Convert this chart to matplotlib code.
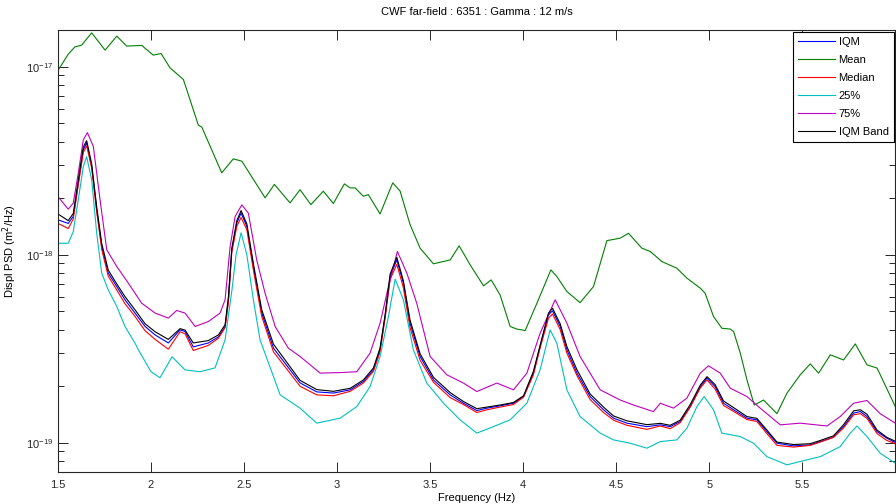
import matplotlib
matplotlib.use("Agg")
import matplotlib.pyplot as plt
from matplotlib.ticker import NullFormatter, LogLocator
import numpy as np

plt.rcParams['font.family'] = ['Liberation Sans', 'DejaVu Sans']

################################################################################
# data ----
################################################################################

# Mean (smooth green curve)
freq_mean = [1.50, 1.554, 1.591, 1.627, 1.681, 1.753, 1.816, 1.869, 1.950, 2.012,
             2.054, 2.102, 2.174, 2.254, 2.273, 2.380, 2.442, 2.488, 2.613, 2.663,
             2.747, 2.801, 2.859, 2.926, 2.980, 3.039, 3.070, 3.097, 3.141, 3.168,
             3.231, 3.299, 3.339, 3.392, 3.446, 3.518, 3.608, 3.656, 3.715, 3.787,
             3.828, 3.876, 3.930, 3.966, 4.011, 4.074, 4.149, 4.181, 4.235, 4.306,
             4.378, 4.450, 4.522, 4.566, 4.638, 4.683, 4.746, 4.826, 4.880, 4.952,
             4.978, 5.023, 5.068, 5.113, 5.131, 5.167, 5.203, 5.242, 5.292, 5.364,
             5.418, 5.489, 5.543, 5.588, 5.651, 5.722, 5.785, 5.848, 5.902, 6.0]
psd_mean = [9.56e-18, 1.163e-17, 1.277e-17, 1.304e-17, 1.516e-17, 1.227e-17, 1.457e-17,
            1.289e-17, 1.30e-17, 1.154e-17, 1.177e-17, 9.88e-18, 8.56e-18, 4.90e-18,
            4.78e-18, 2.73e-18, 3.24e-18, 3.15e-18, 2.01e-18, 2.37e-18, 1.89e-18,
            2.22e-18, 1.85e-18, 2.18e-18, 1.875e-18, 2.385e-18, 2.27e-18, 2.27e-18,
            2.05e-18, 2.09e-18, 1.65e-18, 2.415e-18, 2.18e-18, 1.45e-18, 1.085e-18,
            8.96e-19, 9.4e-19, 1.117e-18, 8.85e-19, 6.84e-19, 7.36e-19, 6.12e-19,
            4.16e-19, 4.03e-19, 3.96e-19, 5.53e-19, 8.32e-19, 7.67e-19, 6.38e-19,
            5.57e-19, 6.78e-19, 1.19e-18, 1.227e-18, 1.303e-18, 1.085e-18, 1.042e-18,
            9.21e-19, 8.49e-19, 7.52e-19, 6.65e-19, 6.25e-19, 4.70e-19, 4.07e-19,
            4.03e-19, 3.91e-19, 3.00e-19, 2.16e-19, 1.59e-19, 1.69e-19, 1.43e-19,
            1.84e-19, 2.30e-19, 2.63e-19, 2.35e-19, 2.94e-19, 2.76e-19, 3.36e-19,
            2.60e-19, 2.50e-19, 1.56e-19]

# IQM, Median and IQM Band share one frequency grid
freq_mid = [1.50, 1.555, 1.582, 1.609, 1.636, 1.654, 1.681, 1.708, 1.735, 1.770,
            1.816, 1.860, 1.914, 1.968, 2.022, 2.093, 2.156, 2.183, 2.227, 2.308,
            2.362, 2.398, 2.416, 2.434, 2.461, 2.484, 2.515, 2.550, 2.595, 2.658,
            2.801, 2.891, 2.980, 3.070, 3.141, 3.195, 3.231, 3.258, 3.285, 3.321,
            3.356, 3.392, 3.446, 3.518, 3.608, 3.679, 3.751, 3.805, 3.876, 3.948,
            4.002, 4.055, 4.091, 4.136, 4.158, 4.199, 4.235, 4.289, 4.360, 4.432,
            4.486, 4.558, 4.665, 4.737, 4.790, 4.844, 4.898, 4.952, 4.988, 5.032,
            5.077, 5.131, 5.203, 5.256, 5.310, 5.364, 5.453, 5.543, 5.597, 5.668,
            5.722, 5.776, 5.812, 5.848, 5.902, 5.955, 6.0]
psd_iqm = [1.535e-18, 1.47e-18, 1.60e-18, 2.405e-18, 3.62e-18, 3.94e-18, 2.95e-18,
           1.735e-18, 1.107e-18, 7.99e-19, 6.78e-19, 5.77e-19, 4.90e-19, 4.16e-19,
           3.75e-19, 3.40e-19, 3.99e-19, 3.91e-19, 3.24e-19, 3.40e-19, 3.66e-19,
           4.14e-19, 5.77e-19, 1.064e-18, 1.475e-18, 1.67e-18, 1.415e-18, 8.67e-19,
           4.90e-19, 3.19e-19, 2.085e-19, 1.867e-19, 1.84e-19, 1.914e-19, 2.12e-19,
           2.445e-19, 3.125e-19, 4.70e-19, 7.67e-19, 9.40e-19, 7.07e-19, 4.33e-19,
           2.88e-19, 2.16e-19, 1.80e-19, 1.625e-19, 1.485e-19, 1.53e-19, 1.574e-19,
           1.625e-19, 1.763e-19, 2.35e-19, 3.25e-19, 4.80e-19, 5.04e-19, 4.16e-19,
           3.125e-19, 2.35e-19, 1.763e-19, 1.50e-19, 1.353e-19, 1.273e-19, 1.22e-19,
           1.247e-19, 1.22e-19, 1.298e-19, 1.56e-19, 1.99e-19, 2.21e-19, 1.99e-19,
           1.625e-19, 1.50e-19, 1.353e-19, 1.326e-19, 1.148e-19, 9.96e-20, 9.64e-20,
           9.75e-20, 1.016e-19, 1.072e-19, 1.22e-19, 1.44e-19, 1.467e-19, 1.38e-19,
           1.148e-19, 1.059e-19, 1.004e-19]
psd_median = [1.47e-18, 1.38e-18, 1.55e-18, 2.35e-18, 3.50e-18, 3.80e-18, 2.90e-18,
              1.70e-18, 1.07e-18, 7.7e-19, 6.5e-19, 5.5e-19, 4.7e-19, 3.95e-19,
              3.55e-19, 3.15e-19, 3.9e-19, 3.8e-19, 3.1e-19, 3.3e-19, 3.6e-19,
              4.1e-19, 5.6e-19, 1.03e-18, 1.42e-18, 1.58e-18, 1.36e-18, 8.3e-19,
              4.7e-19, 3.05e-19, 2.0e-19, 1.80e-19, 1.78e-19, 1.88e-19, 2.08e-19,
              2.40e-19, 3.05e-19, 4.6e-19, 7.4e-19, 8.9e-19, 6.7e-19, 4.1e-19,
              2.75e-19, 2.1e-19, 1.74e-19, 1.6e-19, 1.45e-19, 1.50e-19, 1.55e-19,
              1.6e-19, 1.75e-19, 2.3e-19, 3.2e-19, 4.6e-19, 4.85e-19, 4.0e-19,
              3.0e-19, 2.28e-19, 1.70e-19, 1.45e-19, 1.32e-19, 1.24e-19, 1.18e-19,
              1.23e-19, 1.19e-19, 1.28e-19, 1.55e-19, 1.96e-19, 2.16e-19, 1.93e-19,
              1.58e-19, 1.47e-19, 1.33e-19, 1.30e-19, 1.12e-19, 9.7e-20, 9.5e-20,
              9.7e-20, 1.01e-19, 1.07e-19, 1.20e-19, 1.41e-19, 1.43e-19, 1.35e-19,
              1.12e-19, 1.03e-19, 9.9e-20]
psd_band = [1.65e-18, 1.52e-18, 1.66e-18, 2.5e-18, 3.75e-18, 4.05e-18, 3.05e-18,
            1.8e-18, 1.15e-18, 8.3e-19, 7.0e-19, 6.0e-19, 5.1e-19, 4.3e-19,
            3.9e-19, 3.55e-19, 4.05e-19, 3.98e-19, 3.4e-19, 3.5e-19, 3.75e-19,
            4.25e-19, 6.0e-19, 1.08e-18, 1.52e-18, 1.72e-18, 1.46e-18, 9.0e-19,
            5.1e-19, 3.35e-19, 2.15e-19, 1.92e-19, 1.88e-19, 1.95e-19, 2.16e-19,
            2.5e-19, 3.2e-19, 4.8e-19, 7.9e-19, 9.7e-19, 7.3e-19, 4.5e-19,
            2.98e-19, 2.23e-19, 1.85e-19, 1.66e-19, 1.52e-19, 1.55e-19, 1.59e-19,
            1.64e-19, 1.78e-19, 2.4e-19, 3.3e-19, 4.9e-19, 5.2e-19, 4.3e-19,
            3.25e-19, 2.45e-19, 1.82e-19, 1.55e-19, 1.39e-19, 1.31e-19, 1.25e-19,
            1.27e-19, 1.24e-19, 1.32e-19, 1.6e-19, 2.03e-19, 2.25e-19, 2.04e-19,
            1.67e-19, 1.54e-19, 1.38e-19, 1.35e-19, 1.17e-19, 1.01e-19, 9.8e-20,
            9.9e-20, 1.03e-19, 1.09e-19, 1.25e-19, 1.48e-19, 1.50e-19, 1.42e-19,
            1.17e-19, 1.07e-19, 1.02e-19]

# 25% percentile (cyan)
freq_p25 = [1.50, 1.555, 1.582, 1.609, 1.636, 1.654, 1.681, 1.708, 1.735, 1.770,
            1.816, 1.860, 1.914, 1.932, 2.0, 2.048, 2.113, 2.183, 2.263, 2.344,
            2.398, 2.435, 2.457, 2.484, 2.515, 2.550, 2.586, 2.694, 2.801, 2.891,
            3.016, 3.106, 3.177, 3.231, 3.276, 3.312, 3.356, 3.410, 3.482, 3.572,
            3.661, 3.751, 3.840, 3.930, 4.020, 4.091, 4.145, 4.181, 4.235, 4.306,
            4.414, 4.486, 4.575, 4.665, 4.737, 4.826, 4.880, 4.934, 4.973, 5.023,
            5.068, 5.167, 5.238, 5.310, 5.418, 5.489, 5.597, 5.704, 5.758, 5.794,
            5.848, 5.919, 6.0]
psd_p25 = [1.153e-18, 1.153e-18, 1.33e-18, 1.963e-18, 2.95e-18, 3.33e-18, 2.505e-18,
           1.303e-18, 7.99e-19, 6.52e-19, 5.31e-19, 4.16e-19, 3.39e-19, 3.125e-19,
           2.39e-19, 2.22e-19, 2.87e-19, 2.445e-19, 2.39e-19, 2.505e-19, 3.53e-19,
           6.52e-19, 1.0e-18, 1.31e-18, 1.0e-18, 5.77e-19, 3.53e-19, 1.80e-19,
           1.53e-19, 1.273e-19, 1.353e-19, 1.56e-19, 1.99e-19, 2.88e-19, 4.70e-19,
           7.43e-19, 5.77e-19, 3.125e-19, 2.08e-19, 1.625e-19, 1.326e-19, 1.127e-19,
           1.22e-19, 1.326e-19, 1.625e-19, 2.445e-19, 3.99e-19, 3.39e-19, 1.914e-19,
           1.38e-19, 1.127e-19, 1.037e-19, 9.96e-20, 9.37e-20, 1.016e-19, 1.037e-19,
           1.197e-19, 1.56e-19, 1.763e-19, 1.50e-19, 1.127e-19, 1.08e-19, 9.96e-20,
           8.45e-20, 7.64e-20, 7.96e-20, 8.45e-20, 9.55e-20, 1.127e-19, 1.23e-19,
           1.08e-19, 8.81e-20, 7.80e-20]

# 75% percentile (magenta)
freq_p75 = [1.50, 1.555, 1.582, 1.609, 1.636, 1.658, 1.690, 1.726, 1.762, 1.816,
            1.878, 1.950, 2.022, 2.093, 2.138, 2.183, 2.237, 2.308, 2.371, 2.398,
            2.425, 2.452, 2.488, 2.523, 2.568, 2.613, 2.667, 2.738, 2.801, 2.909,
            3.016, 3.106, 3.177, 3.231, 3.276, 3.324, 3.375, 3.428, 3.500, 3.590,
            3.679, 3.751, 3.859, 3.948, 4.020, 4.091, 4.172, 4.235, 4.306, 4.414,
            4.522, 4.593, 4.700, 4.737, 4.808, 4.880, 4.952, 4.996, 5.059, 5.113,
            5.203, 5.274, 5.382, 5.489, 5.633, 5.704, 5.776, 5.848, 5.919, 6.0]
psd_p75 = [2.04e-18, 1.75e-18, 1.884e-18, 2.72e-18, 4.09e-18, 4.47e-18, 3.77e-18,
           1.963e-18, 1.064e-18, 8.67e-19, 7.07e-19, 5.53e-19, 4.90e-19, 4.61e-19,
           5.06e-19, 4.90e-19, 4.16e-19, 4.42e-19, 4.90e-19, 5.77e-19, 1.107e-18,
           1.60e-18, 1.845e-18, 1.667e-18, 9.40e-19, 6.25e-19, 4.16e-19, 3.19e-19,
           2.88e-19, 2.35e-19, 2.365e-19, 2.39e-19, 3.00e-19, 4.33e-19, 6.78e-19,
           1.042e-18, 7.99e-19, 5.53e-19, 2.88e-19, 2.30e-19, 2.08e-19, 1.875e-19,
           2.08e-19, 1.914e-19, 2.35e-19, 3.83e-19, 5.77e-19, 4.33e-19, 2.88e-19,
           1.914e-19, 1.69e-19, 1.59e-19, 1.467e-19, 1.625e-19, 1.53e-19, 1.73e-19,
           2.35e-19, 2.57e-19, 2.35e-19, 1.954e-19, 1.763e-19, 1.53e-19, 1.247e-19,
           1.273e-19, 1.23e-19, 1.38e-19, 1.625e-19, 1.68e-19, 1.43e-19, 1.273e-19]

x_ticks = [1.5, 2, 2.5, 3, 3.5, 4, 4.5, 5, 5.5]
x_tick_labels = ['1.5', '2', '2.5', '3', '3.5', '4', '4.5', '5', '5.5']
y_ticks = [1e-19, 1e-18, 1e-17]
title_text = 'CWF far-field : 6351 : Gamma : 12 m/s'

################################################################################
# plot ----
################################################################################

fig = plt.figure(figsize=(8.96, 5.04), dpi=100)
ax = fig.add_axes([58 / 896, 1 - 472 / 504, 1 - 58 / 896 - 0.0008, (472 - 30) / 504])

lw = 0.8
ax.semilogy(freq_mid, psd_iqm, color='#0000ff', lw=lw, label='IQM')
ax.semilogy(freq_mean, psd_mean, color='#008000', lw=lw, label='Mean')
ax.semilogy(freq_mid, psd_median, color='#ff0000', lw=lw, label='Median')
ax.semilogy(freq_p25, psd_p25, color='#00bfbf', lw=lw, label='25%')
ax.semilogy(freq_p75, psd_p75, color='#bf00bf', lw=lw, label='75%')
ax.semilogy(freq_mid, psd_band, color='black', lw=lw, label='IQM Band')

ax.set_xlim(1.5, 6.0)
ax.set_ylim(7.0e-20, 1.57e-17)
ax.set_xticks(x_ticks)
ax.set_xticklabels(x_tick_labels)
ax.set_yticks(y_ticks)
ax.yaxis.set_minor_locator(LogLocator(base=10, subs=np.arange(2, 10)))
ax.yaxis.set_minor_formatter(NullFormatter())

ax.tick_params(which='both', direction='in', top=True, right=True,
               labelsize=8, colors='#262626', width=0.7)
ax.tick_params(which='major', length=7)
ax.tick_params(which='minor', length=4)
ax.tick_params(axis='x', pad=6)
for s in ax.spines.values():
    s.set_linewidth(0.8)
    s.set_color('#262626')

ax.set_xlabel('Frequency (Hz)', fontsize=8, labelpad=2)
ax.set_ylabel('Displ PSD (m$^2$/Hz)', fontsize=8)
ax.yaxis.set_label_coords(-0.047, 0.5)
ax.set_title(title_text, fontsize=8, pad=11)

leg = ax.legend(loc='upper right', fontsize=8, fancybox=False, framealpha=1,
                edgecolor='black', borderaxespad=0.15, handlelength=3.4,
                handletextpad=0.3, labelspacing=0.72, borderpad=0.45)
leg.get_frame().set_linewidth(0.8)

fig.savefig('out.png', dpi=100)
